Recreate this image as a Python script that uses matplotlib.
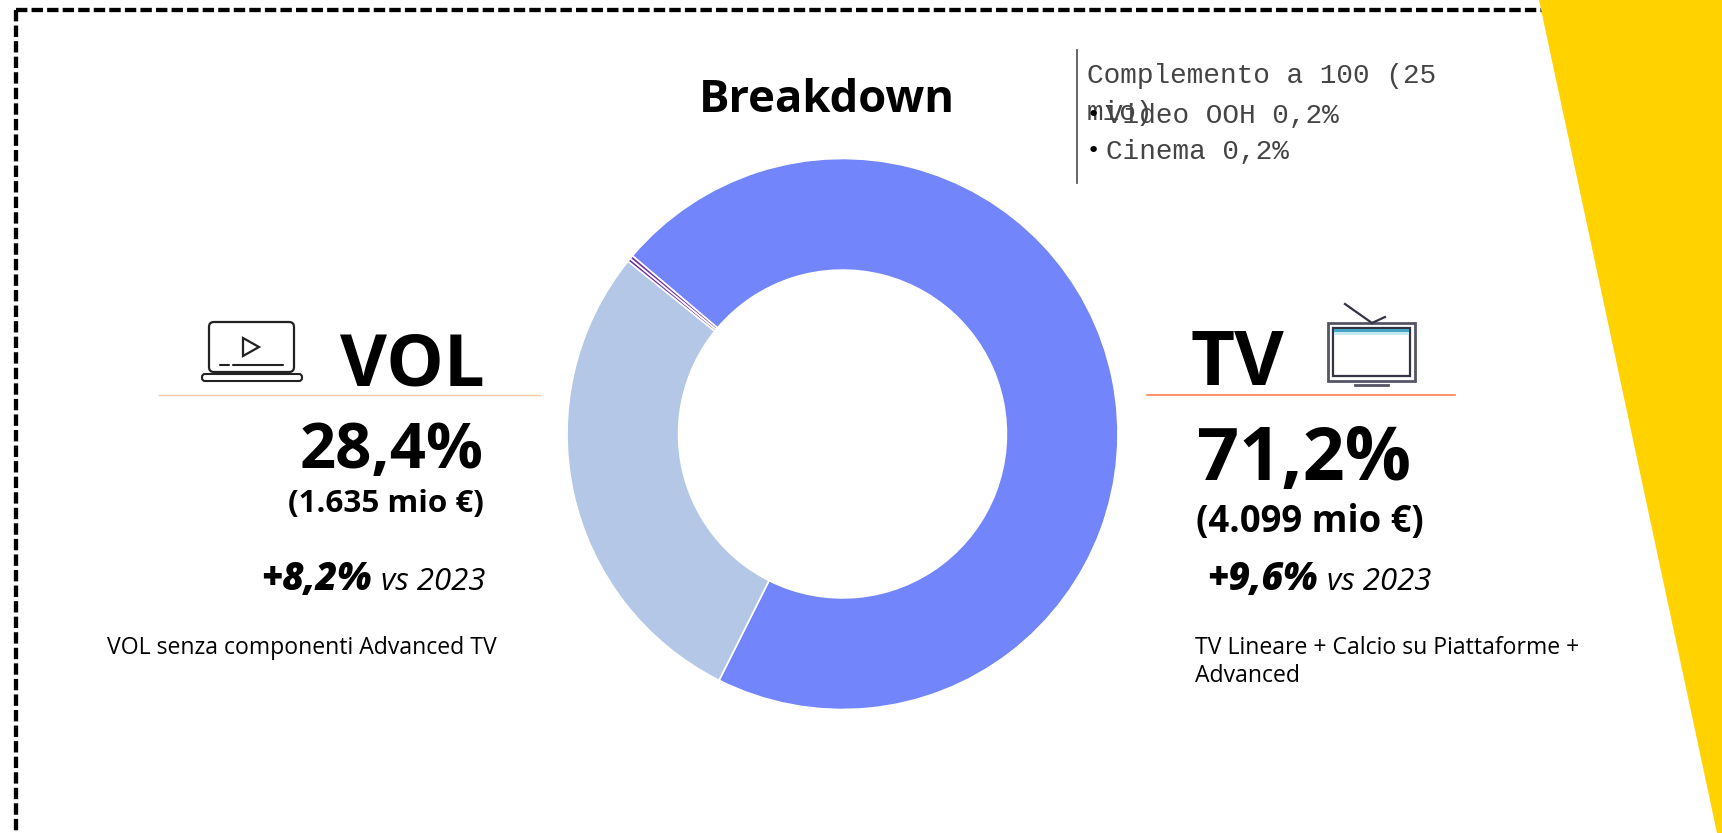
import matplotlib
matplotlib.use("Agg")
from matplotlib import pyplot as plt
from matplotlib.patches import FancyBboxPatch, Polygon, Rectangle

categorie = ["TV", "VOL", "Video OOH", "Cinema"]
quote = [71.2, 28.4, 0.2, 0.2]
colori = ["#7285FA", "#B4C7E7", "#7030A0", "#7030A0"]
complemento = ["Video OOH 0,2%", "Cinema 0,2%"]

W, H = 1722, 833
plt.rcParams["font.family"] = ["Open Sans", "DejaVu Sans"]
plt.rcParams["lines.scale_dashes"] = False

fig = plt.figure(figsize=(W / 100, H / 100), dpi=100, facecolor="white")

# livello in pixel per testi, icone e cornice
bg = fig.add_axes([0, 0, 1, 1])
bg.set_xlim(0, W)
bg.set_ylim(H, 0)
bg.axis("off")

# cornice tratteggiata
tratto = dict(color="black", lw=3.1, linestyle=(0, (8.2, 3.0)), dash_capstyle="butt")
bg.plot([16, 1545], [9.5, 9.5], **tratto)
bg.plot([16, 16], [9.5, H], **tratto)

# fascia gialla
bg.add_patch(Polygon([(1539, 0), (W, 0), (W, H), (1717, H)], color="#FFD200", lw=0, zorder=3))

# ciambella
cx, cy, R = 842.5, 434, 275.5
ax = fig.add_axes([(cx - R) / W, 1 - (cy + R) / H, 2 * R / W, 2 * R / H])
ax.pie(quote, colors=colori, startangle=139.7, counterclock=False, radius=1,
       wedgeprops=dict(width=0.405, edgecolor="white", linewidth=1.2))
ax.set_xlim(-1, 1)
ax.set_ylim(-1, 1)

bg.text(827, 100, "Breakdown", fontsize=32.7, fontweight="bold", ha="center", va="center")

# colonna VOL
bg.plot([159, 540], [394.5, 394.5], color="#F8CBAD", lw=1)
bg.text(485, 385, "VOL", fontsize=52, fontweight="bold", ha="right", va="baseline")
bg.text(484, 468, "28,4%", fontsize=45.5, fontweight="bold", ha="right", va="baseline")
bg.text(484, 512, "(1.635 mio €)", fontsize=22.6, fontweight="bold", ha="right", va="baseline")
bg.text(261, 590, "+8,2%", fontsize=27, fontweight=800, style="italic", ha="left", va="baseline")
bg.text(381, 590, "vs 2023", fontsize=22.4, style="italic", ha="left", va="baseline")
bg.text(107, 654, "VOL senza componenti Advanced TV", fontsize=16.6, ha="left", va="baseline")

# colonna TV
bg.plot([1147, 1455], [394.5, 394.5], color="#FF7F50", lw=1.2)
bg.text(1191, 385, "TV", fontsize=55, fontweight="bold", ha="left", va="baseline")
bg.text(1197, 480, "71,2%", fontsize=53, fontweight="bold", ha="left", va="baseline")
bg.text(1196, 532, "(4.099 mio €)", fontsize=26.3, fontweight="bold", ha="left", va="baseline")
bg.text(1207, 590, "+9,6%", fontsize=27, fontweight=800, style="italic", ha="left", va="baseline")
bg.text(1327, 590, "vs 2023", fontsize=22.4, style="italic", ha="left", va="baseline")
bg.text(1195, 654, "TV Lineare + Calcio su Piattaforme +", fontsize=16.6, ha="left", va="baseline")
bg.text(1195, 682, "Advanced", fontsize=16.6, ha="left", va="baseline")

# riquadro complemento
bg.plot([1077, 1077], [50, 183], color="#595959", lw=1.3)
mono = ["Liberation Mono", "DejaVu Sans Mono"]
bg.text(1087, 83, "Complemento a 100 (25", fontsize=20, family=mono, color="#444444")
bg.text(1087, 120, "mio)", fontsize=20, family=mono, color="#444444")
for riga, y in zip(complemento, [123, 159]):
    bg.text(1106, y, riga, fontsize=20, family=mono, color="#444444")
    bg.text(1093, y - 8, "•", fontsize=16, ha="center", va="center", family="DejaVu Sans")

# icona laptop
icona = dict(color="#222222", lw=1.5, solid_capstyle="round")
bg.add_patch(FancyBboxPatch((209, 322), 85, 50, boxstyle="round,pad=0,rounding_size=5",
                            fc="none", ec="#222222", lw=1.6))
bg.add_patch(FancyBboxPatch((202, 374), 100, 7, boxstyle="round,pad=0,rounding_size=3",
                            fc="white", ec="#222222", lw=1.5))
bg.add_patch(Polygon([(243, 338), (243, 356), (259, 347)], closed=True, fc="none", ec="#222222", lw=1.6))
bg.plot([220, 229], [365, 365], **icona)
bg.plot([233, 283], [365, 365], **icona)

# icona televisore
bg.add_patch(Rectangle((1328, 323), 87, 58, fc="none", ec="#555566", lw=2))
bg.add_patch(Rectangle((1333, 328), 77, 48, fc="none", ec="#333344", lw=1.6))
bg.add_patch(Rectangle((1334, 329), 75, 3, fc="#45A5C5", lw=0))
bg.add_patch(Rectangle((1334, 332), 75, 3, fc="#C5E8F0", lw=0))
bg.plot([1345, 1372], [304, 323], color="#333344", lw=1.6)
bg.plot([1372, 1385], [323, 317], color="#333344", lw=1.6)
bg.plot([1355, 1388], [385, 385], color="#555566", lw=2)

fig.savefig("out.png", dpi=100)
